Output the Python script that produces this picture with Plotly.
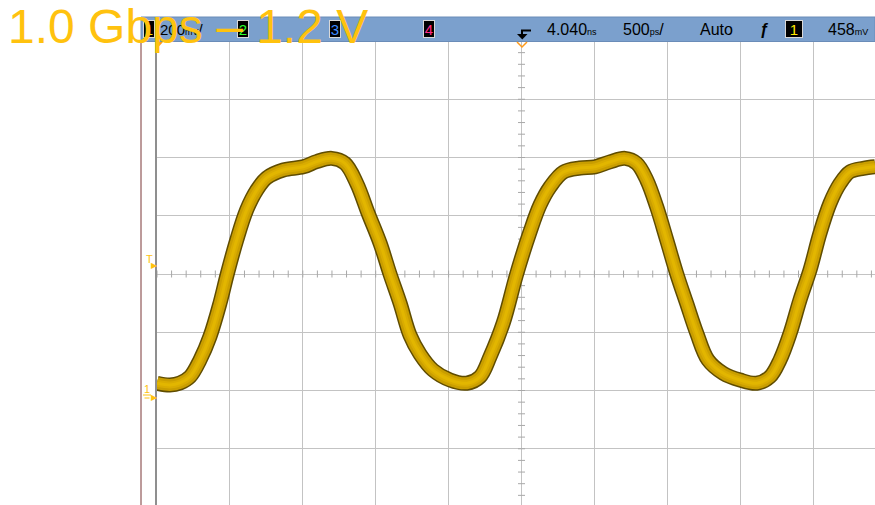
import numpy as np
import plotly.graph_objects as go

time_ns = [1.540, 1.629, 1.698, 1.766, 1.835, 1.903, 1.972, 2.022, 2.087, 2.155,
           2.224, 2.292, 2.406, 2.543, 2.635, 2.738, 2.829, 2.910, 2.989, 3.070,
           3.138, 3.207, 3.275, 3.344, 3.433, 3.550, 3.664, 3.755, 3.824, 3.915,
           4.007, 4.098, 4.167, 4.236, 4.327, 4.441, 4.544, 4.647, 4.750, 4.830,
           4.899, 4.967, 5.036, 5.104, 5.173, 5.242, 5.319, 5.424, 5.539, 5.653,
           5.744, 5.813, 5.882, 5.950, 6.019, 6.087, 6.156, 6.225, 6.293, 6.384,
           6.465]
volts = [0.050, 0.044, 0.051, 0.072, 0.130, 0.210, 0.325, 0.425, 0.542, 0.645,
         0.713, 0.755, 0.782, 0.793, 0.811, 0.822, 0.805, 0.736, 0.633, 0.531,
         0.425, 0.325, 0.215, 0.150, 0.095, 0.061, 0.050, 0.072, 0.141, 0.257,
         0.425, 0.569, 0.662, 0.724, 0.775, 0.789, 0.793, 0.810, 0.822, 0.805,
         0.748, 0.656, 0.542, 0.427, 0.324, 0.222, 0.130, 0.084, 0.061, 0.050,
         0.072, 0.130, 0.221, 0.336, 0.439, 0.565, 0.668, 0.736, 0.776, 0.788,
         0.793]

title_text = "1.0 Gbps \u2013 1.2 V"
ch1_scale = "200"
timebase_delay = "4.040"
timebase_scale = "500"
trigger_mode = "Auto"
trigger_level = "458"
channel_labels = ["1", "2", "3", "4"]

# scope settings
V_PER_DIV = 0.2
V_CENTER = 0.425
T_PER_DIV = 0.5
T_CENTER = 4.040

# ---------------- layout geometry ----------------
W, H = 875, 505
L, T = 157, 41
PW, PH = W - L, H - T
PX_DIV_X = 72.9
PX_DIV_Y = 58.25

x0 = T_CENTER - 5 * T_PER_DIV
x_range = [x0, x0 + PW / PX_DIV_X * T_PER_DIV]
y_top = V_CENTER + 4 * V_PER_DIV
y_range = [y_top - PH / PX_DIV_Y * V_PER_DIV, y_top]


def fx(x):
    return (x - L) / PW


def fy(y):
    return (H - y) / PH


GOLD = "#FFC20E"
GRID = "#c3c3c3"

fig = go.Figure()

# center-line minor ticks (1/5 division)
tx = np.arange(x0, x_range[1] + 1e-9, T_PER_DIV / 5)
fig.add_trace(go.Scatter(x=tx, y=[V_CENTER] * len(tx), mode="markers",
                         marker=dict(symbol="line-ns", size=5, color=GRID,
                                     line=dict(width=1, color="#a8a8a8")),
                         hoverinfo="skip", showlegend=False))
ty = np.arange(V_CENTER - 4 * V_PER_DIV, y_top + 1e-9, V_PER_DIV / 5)
fig.add_trace(go.Scatter(x=[T_CENTER] * len(ty), y=ty, mode="markers",
                         marker=dict(symbol="line-ew", size=5, color=GRID,
                                     line=dict(width=1, color="#a8a8a8")),
                         hoverinfo="skip", showlegend=False))

# waveform: dark edge, gold body, lighter core
for w, c in [(15, "#5f4c00"), (12, "#C99E00"), (7, "#D9AC00"), (3, "#E2B600")]:
    fig.add_trace(go.Scatter(x=time_ns, y=volts, mode="lines",
                             line=dict(color=c, width=w, shape="spline", smoothing=1.0),
                             hoverinfo="skip", showlegend=False))

shapes = []
# status bar
shapes.append(dict(type="rect", xref="paper", yref="paper",
                   x0=fx(141), x1=1.0, y0=fy(41.5), y1=fy(17),
                   fillcolor="#7BA0CD", line=dict(width=1, color="#6a8cb8"), layer="above"))
# maroon separator line at left
shapes.append(dict(type="line", xref="paper", yref="paper",
                   x0=fx(141), x1=fx(141), y0=fy(42), y1=fy(505),
                   line=dict(color="#7a3636", width=1)))
# trigger-position marker in the status bar
shapes.append(dict(type="line", xref="paper", yref="paper",
                   x0=fx(521), x1=fx(531), y0=fy(30.5), y1=fy(30.5),
                   line=dict(color="black", width=2), layer="above"))
shapes.append(dict(type="line", xref="paper", yref="paper",
                   x0=fx(522), x1=fx(522), y0=fy(30), y1=fy(35),
                   line=dict(color="black", width=2), layer="above"))
shapes.append(dict(type="path", xref="paper", yref="paper",
                   path=f"M {fx(517)} {fy(34)} L {fx(527.5)} {fy(34)} L {fx(522.3)} {fy(39.5)} Z",
                   fillcolor="black", line=dict(width=0), layer="above"))
# orange chevron under it
shapes.append(dict(type="path", xref="paper", yref="paper",
                   path=f"M {fx(517)} {fy(42)} L {fx(522)} {fy(47)} L {fx(527)} {fy(42)}",
                   line=dict(color="#FF9A1A", width=1.5), layer="above"))
# orange time-reference marker at left
shapes.append(dict(type="path", xref="paper", yref="paper",
                   path=f"M {fx(157.5)} {fy(42)} L {fx(163)} {fy(42)} L {fx(157.5)} {fy(48)} Z",
                   fillcolor="#FF9A1A", line=dict(width=0), layer="above"))
# ground symbol lines under channel-1 marker
shapes.append(dict(type="line", xref="paper", yref="paper",
                   x0=fx(143), x1=fx(151), y0=fy(395), y1=fy(395),
                   line=dict(color=GOLD, width=1), layer="above"))
shapes.append(dict(type="line", xref="paper", yref="paper",
                   x0=fx(144.5), x1=fx(149.5), y0=fy(398), y1=fy(398),
                   line=dict(color=GOLD, width=1), layer="above"))

ann = []
FONT = "Liberation Sans, Arial, sans-serif"


def text(x, y, s, size=16, color="black", xanchor="left", **kw):
    ann.append(dict(xref="paper", yref="paper", x=fx(x), y=fy(y), text=s,
                    showarrow=False, xanchor=xanchor, yanchor="middle",
                    font=dict(family=FONT, size=size, color=color), **kw))


def box(xc, label, color, w=10):
    ann.append(dict(xref="paper", yref="paper", x=fx(xc), y=fy(29.5), text=label,
                    showarrow=False, xanchor="center", yanchor="middle",
                    width=w, height=16, bgcolor="black", bordercolor="#d8d8d8",
                    borderwidth=1, borderpad=0,
                    font=dict(family=FONT, size=15, color=color)))


unit = "<span style='font-size:9px'>%s</span>"
box(148.5, channel_labels[0], "#FFE600")
text(158, 29.5, ch1_scale + unit % "mV" + "/", size=15)
box(243, channel_labels[1], "#2BFF2B")
box(335, channel_labels[2], "#3D8BFF")
box(429, channel_labels[3], "#FF2A8A")
text(545, 29.5, timebase_delay + unit % "ns", size=16)
text(621, 29.5, timebase_scale + unit % "ps" + "/", size=16)
text(698, 29.5, trigger_mode, size=16)
text(758, 29.5, "<b>\u0192</b>", size=16)
box(794, channel_labels[0], "#FFE600", w=16)
text(826, 29.5, trigger_level + unit % "mV", size=16)

# channel markers at the left edge
text(149.5, 259, "T", size=11, color=GOLD, xanchor="center")
text(154, 265.5, "\u25B6", size=8, color=GOLD, xanchor="center")
text(147, 389, "1", size=11, color=GOLD, xanchor="center")
text(154, 397.5, "\u25B6", size=8, color=GOLD, xanchor="center")

# big title overlay
text(6, 26.1, title_text, size=48, color=GOLD)

fig.update_layout(
    width=W, height=H,
    margin=dict(l=L, r=W - L - PW, t=T, b=H - T - PH, pad=0),
    paper_bgcolor="white", plot_bgcolor="white",
    showlegend=False, shapes=shapes, annotations=ann,
    xaxis=dict(range=x_range, tick0=x0, dtick=T_PER_DIV, showgrid=True,
               gridcolor=GRID, gridwidth=1, zeroline=False, showticklabels=False,
               ticks="", showline=False, fixedrange=True),
    yaxis=dict(range=y_range, tick0=V_CENTER, dtick=V_PER_DIV, showgrid=True,
               gridcolor=GRID, gridwidth=1, zeroline=False, showticklabels=False,
               ticks="", showline=True, linecolor="#8f8f8f", linewidth=1.5,
               fixedrange=True),
)

fig.write_html("out.html", config={"displayModeBar": False},
               post_script="document.body.style.margin='0px';"
                           "document.body.style.overflow='hidden';")
